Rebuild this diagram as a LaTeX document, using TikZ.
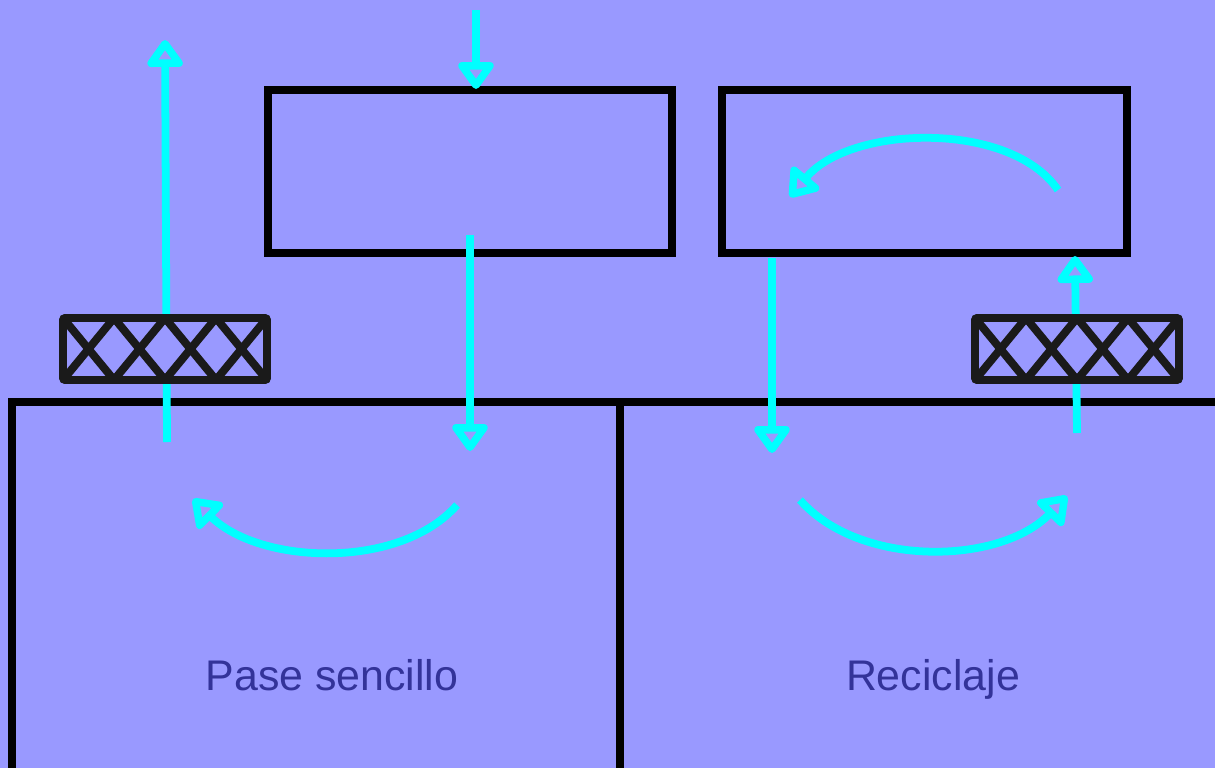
\documentclass[tikz,border=0pt]{standalone}
\usepackage{fontspec}
\setsansfont{Liberation Sans}
\usetikzlibrary{arrows.meta}
\definecolor{bg}{HTML}{9999FF}
\definecolor{flow}{HTML}{00FFFF}
\definecolor{lbl}{HTML}{333399}
\definecolor{ink}{HTML}{1A1A1A}
\tikzset{
  boxline/.style={draw=black, line width=7.2pt*0.567},
  flowarrow/.style={draw=flow, line width=7.8pt*0.567, line cap=butt,
    -{Triangle[open, length=17pt, width=23pt, line width=6.5pt 0 0, round]}},
  hatchbox/.style={draw=ink, fill=bg, line width=8pt*0.567, rounded corners=1.5pt},
  hatchline/.style={draw=ink, line width=8pt*0.567},
  lab/.style={font=\sffamily\fontsize{24.4pt}{29pt}\selectfont, text=lbl, inner sep=0pt, anchor=base}
}
\begin{document}
\begin{tikzpicture}[x=0.02cm, y=-0.02cm]
\useasboundingbox (0,0) rectangle (1215,768);
\fill[bg] (0,0) rectangle (1215,768);

% top boxes
\draw[boxline] (268,90) rectangle (672,253);
\draw[boxline] (722,90) rectangle (1127,253);
% bottom compartments
\draw[boxline] (12,772) -- (12,402) -- (1220,402);
\draw[boxline] (620,402) -- (620,772);

% labels
\node[lab] (pase) at (332,690) {Pase sencillo};
\node[lab] (recic) at (933,690) {Reciclaje};

% coordinates for flows
\coordinate (a1s) at (167,442); \coordinate (a1e) at (165,40);
\coordinate (a2s) at (476,10);  \coordinate (a2e) at (476,89);
\coordinate (a3s) at (470,235); \coordinate (a3e) at (470,451);
\coordinate (a4s) at (457,505); \coordinate (a4e) at (193,499);
\coordinate (a5s) at (772,258); \coordinate (a5e) at (772,453);
\coordinate (a6s) at (800,500); \coordinate (a6e) at (1067,496);
\coordinate (a7s) at (1077,433); \coordinate (a7e) at (1075,256);
\coordinate (a8s) at (1058,190); \coordinate (a8e) at (790,197);

\draw[flowarrow] (a1s) -- (a1e);
\draw[flowarrow] (a2s) -- (a2e);
\draw[flowarrow] (a3s) -- (a3e);
\draw[flowarrow] (a4s) .. controls (400,570) and (260,565) .. (a4e);
\draw[flowarrow] (a5s) -- (a5e);
\draw[flowarrow] (a6s) .. controls (860,568) and (1000,565) .. (a6e);
\draw[flowarrow] (a7s) -- (a7e);
\draw[flowarrow] (a8s) .. controls (1010,120) and (850,125) .. (a8e);

% hatched boxes
\foreach \x in {63,975}{
  \draw[hatchbox] (\x,318) rectangle (\x+204,380);
  \foreach \i in {0,1,2,3}{
    \draw[hatchline] (\x+51*\i,318) -- (\x+51*\i+51,380);
    \draw[hatchline] (\x+51*\i,380) -- (\x+51*\i+51,318);
  }
  \draw[hatchbox, fill=none] (\x,318) rectangle (\x+204,380);
}
\end{tikzpicture}
\end{document}
